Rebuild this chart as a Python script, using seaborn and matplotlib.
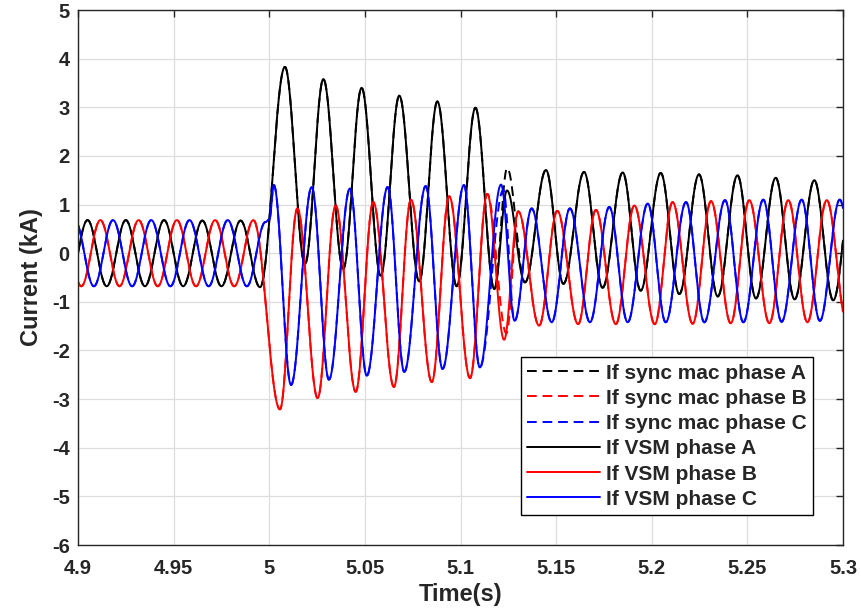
import numpy as np
import pandas as pd
import matplotlib
matplotlib.use('Agg')
import matplotlib.pyplot as plt
from matplotlib.ticker import FormatStrFormatter
import seaborn as sns

# Peaks and troughs of every phase current (time in s, current in kA)
# VSM phase A (black)
vsm_a_t = [4.895, 4.905, 4.915, 4.925, 4.935, 4.945, 4.955, 4.965, 4.975, 4.985, 4.9952,
           5.0082, 5.0187, 5.0283, 5.0387, 5.0483, 5.0583, 5.0680, 5.0784, 5.0879, 5.0980,
           5.1078, 5.1177, 5.1243, 5.1337, 5.1447, 5.1538, 5.1646, 5.1743, 5.1848, 5.1942,
           5.2047, 5.2144, 5.2247, 5.2345, 5.2448, 5.2545, 5.2648, 5.2747, 5.2850, 5.2949, 5.305]
vsm_a_i = [-0.68, 0.68, -0.68, 0.68, -0.68, 0.68, -0.68, 0.67, -0.68, 0.67, -0.70,
           3.83, -0.22, 3.58, -0.32, 3.40, -0.46, 3.24, -0.58, 3.12, -0.68,
           2.99, -0.74, 1.29, -0.60, 1.71, -0.63, 1.67, -0.71, 1.66, -0.77,
           1.65, -0.84, 1.62, -0.89, 1.60, -0.93, 1.55, -0.95, 1.50, -0.97, 1.45]

# VSM phase B (red)
vsm_b_t = [4.8917, 4.9017, 4.9117, 4.9217, 4.9317, 4.9417, 4.9517, 4.9617, 4.9717, 4.9817, 4.9917,
           5.0056, 5.0147, 5.0253, 5.0347, 5.0452, 5.0544, 5.0652, 5.0741, 5.0850, 5.0941,
           5.1050, 5.1140, 5.1228, 5.1302, 5.1411, 5.1506, 5.1615, 5.1708, 5.1812, 5.1909,
           5.2016, 5.2109, 5.2214, 5.2310, 5.2413, 5.2510, 5.2615, 5.2714, 5.2814, 5.2915, 5.3020]
vsm_b_i = [0.68, -0.68, 0.68, -0.68, 0.68, -0.68, 0.68, -0.68, 0.68, -0.68, 0.68,
           -3.21, 0.92, -2.98, 0.98, -2.85, 1.05, -2.75, 1.10, -2.65, 1.17,
           -2.57, 1.22, -1.78, 0.86, -1.49, 0.87, -1.46, 0.89, -1.46, 0.98,
           -1.46, 1.05, -1.45, 1.07, -1.44, 1.09, -1.44, 1.09, -1.42, 1.09, -1.42]

# VSM phase C (blue)
vsm_c_t = [4.8983, 4.9083, 4.9183, 4.9283, 4.9383, 4.9483, 4.9583, 4.9683, 4.9783, 4.9883,
           4.9980, 5.0001, 5.0024, 5.0114, 5.0222, 5.0312, 5.0422, 5.0510, 5.0619, 5.0706,
           5.0818, 5.0906, 5.1018, 5.1101, 5.1212, 5.1283, 5.1372, 5.1477, 5.1572, 5.1677,
           5.1778, 5.1874, 5.1979, 5.2073, 5.2179, 5.2275, 5.2383, 5.2479, 5.2583, 5.2679,
           5.2784, 5.2879, 5.2983, 5.3083]
vsm_c_i = [0.68, -0.68, 0.68, -0.68, 0.68, -0.68, 0.68, -0.68, 0.68, -0.68,
           0.64, 0.70, 1.40, -2.71, 1.36, -2.60, 1.33, -2.52, 1.36, -2.44,
           1.38, -2.38, 1.40, -2.35, 1.41, -1.39, 0.92, -1.42, 0.92, -1.42,
           0.95, -1.42, 1.02, -1.42, 1.05, -1.42, 1.09, -1.42, 1.10, -1.41,
           1.10, -1.39, 1.10, -1.40]

# Sync machine curves lie under the VSM ones except at the switching instant
sync_a_t = [5.1244]
sync_a_i = [1.75]
sync_b_t = [5.1240]
sync_b_i = [-1.65]
sync_c_t = [5.1224]
sync_c_i = [1.30]

labels = ['If sync mac phase A', 'If sync mac phase B', 'If sync mac phase C',
          'If VSM phase A', 'If VSM phase B', 'If VSM phase C']
colors = ['#000000', '#ff0000', '#0000ff', '#000000', '#ff0000', '#0000ff']


def wave(tk, ik, t):
    # half-cosine between consecutive extrema
    tk = np.asarray(tk)
    ik = np.asarray(ik)
    j = np.clip(np.searchsorted(tk, t) - 1, 0, len(tk) - 2)
    s = (t - tk[j]) / (tk[j + 1] - tk[j])
    return ik[j] + (ik[j + 1] - ik[j]) * (1 - np.cos(np.pi * s)) / 2


def merge(tk, ik, t_new, i_new):
    pts = [(a, b) for a, b in zip(tk, ik) if min(abs(a - x) for x in t_new) > 0.002]
    pts += list(zip(t_new, i_new))
    pts.sort()
    return [p[0] for p in pts], [p[1] for p in pts]


t = np.linspace(4.9, 5.3, 4001)
knots = [merge(vsm_a_t, vsm_a_i, sync_a_t, sync_a_i),
         merge(vsm_b_t, vsm_b_i, sync_b_t, sync_b_i),
         merge(vsm_c_t, vsm_c_i, sync_c_t, sync_c_i),
         (vsm_a_t, vsm_a_i), (vsm_b_t, vsm_b_i), (vsm_c_t, vsm_c_i)]

frames = []
for lab, (tk, ik) in zip(labels, knots):
    frames.append(pd.DataFrame({'Time': t, 'Current': wave(tk, ik, t), 'series': lab}))
df = pd.concat(frames, ignore_index=True)

sns.set_style('whitegrid')
plt.rcParams['font.family'] = ['Liberation Sans', 'DejaVu Sans']
plt.rcParams['font.weight'] = 'bold'

fig = plt.figure(figsize=(8.62, 6.13), dpi=100)
ax = fig.add_axes([78 / 862, 1 - 545 / 613, 765 / 862, 535 / 613])

dashes = {lab: ((5, 3) if 'sync' in lab else '') for lab in labels}
sns.lineplot(data=df, x='Time', y='Current', hue='series', style='series',
             hue_order=labels, style_order=labels, palette=dict(zip(labels, colors)),
             dashes=dashes, estimator=None, sort=False, linewidth=1.4, ax=ax)

ax.set_xlim(4.9, 5.3)
ax.set_ylim(-6, 5)
ax.set_xticks(np.arange(4.9, 5.3001, 0.05))
ax.set_yticks(np.arange(-6, 6, 1))
ax.xaxis.set_major_formatter(FormatStrFormatter('%g'))
ax.yaxis.set_major_formatter(FormatStrFormatter('%g'))
ax.tick_params(direction='in', top=True, right=True, length=5, width=1,
               labelsize=14.5, color='#262626', pad=6)
ax.tick_params(axis='x', pad=10)
for lab in ax.get_xticklabels() + ax.get_yticklabels():
    lab.set_fontweight('bold')
ax.grid(True, color='#dddddd', linewidth=0.9)
for sp in ax.spines.values():
    sp.set_color('#262626')
    sp.set_linewidth(1.0)

ax.set_xlabel('Time(s)', fontsize=17, fontweight='bold', labelpad=4)
ax.set_ylabel('Current (kA)', fontsize=17, fontweight='bold', labelpad=6)

sns.move_legend(ax, 'lower right', bbox_to_anchor=(0.961, 0.056), title=None,
                frameon=True, fancybox=False, edgecolor='#000000', framealpha=1,
                prop={'weight': 'bold', 'size': 15}, handlelength=3.5,
                borderaxespad=0, labelspacing=0.3, borderpad=0.3, handletextpad=0.3)
ax.get_legend().get_frame().set_linewidth(1.0)

fig.savefig('out.png', dpi=100)
